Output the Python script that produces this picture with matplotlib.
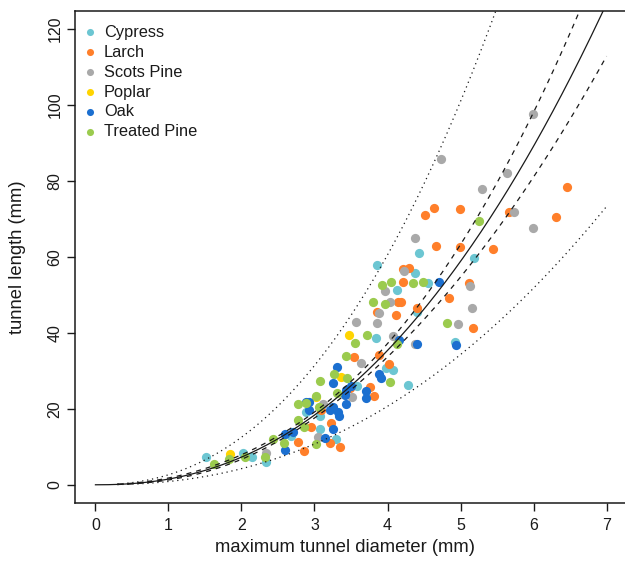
import numpy as np
import matplotlib
matplotlib.use("Agg")
import matplotlib.pyplot as plt

plt.rcParams['font.family'] = ['Liberation Sans', 'DejaVu Sans']

species = ["Cypress", "Larch", "Scots Pine", "Poplar", "Oak", "Treated Pine"]
colors = ["#6CC6D2", "#FF7F2A", "#A9A9A9", "#FFD400", "#1B6FD0", "#9BCB4E"]

cypress_x = [1.52, 2.02, 2.15, 2.34, 2.68, 3.08, 3.08, 3.30, 3.58, 3.85, 3.84, 4.13, 4.38, 4.43,
             4.55, 5.18, 4.40, 4.93, 4.28, 4.07, 3.98, 2.89]
cypress_y = [7.3, 8.5, 7.3, 6.1, 12.9, 18.0, 14.7, 12.1, 26.1, 57.9, 38.7, 51.3, 55.8, 61.0,
             53.1, 59.7, 45.5, 37.7, 26.4, 30.3, 30.7, 19.3]

larch_x = [2.77, 2.86, 2.95, 3.09, 3.23, 3.21, 3.35, 3.48, 3.76, 3.81, 3.54, 3.86, 3.89, 4.02,
           4.12, 4.14, 4.19, 4.21, 4.21, 4.30, 4.40, 4.52, 4.63, 4.67, 4.84, 4.99, 4.99, 5.11,
           5.17, 5.45, 5.66, 6.31, 6.46]
larch_y = [11.2, 8.8, 15.3, 19.7, 16.4, 11.0, 9.9, 25.4, 25.7, 23.5, 33.6, 45.6, 34.2, 31.8,
           44.7, 48.1, 48.1, 53.5, 56.8, 57.2, 46.5, 71.0, 73.0, 62.9, 49.3, 72.6, 62.6, 53.1,
           41.3, 62.0, 71.8, 70.6, 78.5]

scots_x = [2.34, 3.05, 3.11, 3.51, 3.64, 3.57, 3.85, 3.88, 3.97, 4.04, 4.08, 4.23, 4.38, 4.38,
           4.73, 4.96, 5.13, 5.16, 5.30, 5.63, 5.73, 5.99, 5.99]
scots_y = [8.5, 12.6, 21.2, 23.2, 32.2, 43.0, 42.6, 45.2, 51.1, 48.1, 39.3, 56.4, 37.0, 65.0,
           85.7, 42.3, 52.4, 46.5, 77.8, 82.0, 71.8, 97.6, 67.7]

poplar_x = [1.84, 3.02, 3.36, 3.47]
poplar_y = [8.2, 23.2, 28.5, 39.5]

oak_x = [2.59, 2.60, 2.71, 2.89, 2.93, 2.93, 3.14, 3.21, 3.25, 3.32, 3.34, 3.25, 3.26, 3.31,
         3.43, 3.42, 3.43, 3.50, 3.71, 3.70, 3.88, 3.91, 4.16, 4.40, 4.70, 4.94]
oak_y = [13.4, 9.2, 13.8, 21.7, 21.7, 19.6, 12.3, 19.7, 20.6, 19.3, 18.2, 14.6, 26.8, 30.9,
         25.0, 23.7, 21.3, 25.9, 24.8, 22.8, 29.2, 28.1, 38.2, 37.2, 53.5, 36.7]

treated_x = [1.62, 1.83, 2.05, 2.32, 2.43, 2.58, 2.78, 2.78, 2.85, 2.89, 3.02, 3.02, 3.06, 3.07,
             3.27, 3.31, 3.44, 3.43, 3.55, 3.72, 3.80, 3.93, 3.96, 4.05, 4.13, 4.04, 4.35, 4.48,
             4.81, 5.25]
treated_y = [5.5, 6.8, 7.4, 7.3, 12.0, 11.1, 17.1, 21.3, 15.1, 21.5, 10.8, 23.4, 20.6, 27.4,
             29.2, 24.3, 28.0, 33.8, 37.4, 39.4, 48.1, 52.6, 47.6, 53.5, 37.0, 27.2, 53.1, 53.3,
             42.7, 69.6]

series_x = [cypress_x, larch_x, scots_x, poplar_x, oak_x, treated_x]
series_y = [cypress_y, larch_y, scots_y, poplar_y, oak_y, treated_y]

# fitted log-log model: log(y) = b0 + b1*log(x), with confidence / prediction intervals
b0, b1 = np.log(1.50), 2.28
ts = 0.535          # t-quantile * residual sd (log scale)
n_obs = 170
mean_lx = 1.19
sxx = 14.0

xticks = [0, 1, 2, 3, 4, 5, 6, 7]
yticks = [0, 20, 40, 60, 80, 100, 120]

fig = plt.figure(figsize=(6.25, 5.65), dpi=100)
ax = fig.add_axes([75 / 625, (565 - 503) / 565, 552 / 625, 492 / 565])

for xs, ys, c in zip(series_x, series_y, colors):
    ax.scatter(xs, ys, s=44, color=c, linewidths=0, zorder=2)

xg = np.linspace(0, 7, 400)
fit = np.zeros_like(xg)
fit[xg > 0] = np.exp(b0 + b1 * np.log(xg[xg > 0]))
ax.plot(xg, fit, color="#1a1a1a", lw=0.9, zorder=3)

xi = np.linspace(0.3, 7, 400)
lx = np.log(xi)
mu = b0 + b1 * lx
lev = 1.0 / n_obs + (lx - mean_lx) ** 2 / sxx
ci = ts * np.sqrt(lev)
pi = ts * np.sqrt(1 + lev)
for sgn in (1, -1):
    ax.plot(xi, np.exp(mu + sgn * ci), color="#1a1a1a", lw=0.9, ls=(0, (4, 4)), zorder=3)
    ax.plot(xi, np.exp(mu + sgn * pi), color="#1a1a1a", lw=0.9, ls=(0, (1, 3)), zorder=3)

ax.set_xlim(-0.28, 7.28)
ax.set_ylim(-4.8, 124.8)
ax.set_xticks(xticks)
ax.set_yticks(yticks)
ax.set_xticklabels([str(t) for t in xticks])
ax.set_yticklabels([str(t) for t in yticks], rotation=90, va="center")
ax.tick_params(axis="both", direction="out", length=6, width=1.0, colors="#1a1a1a",
               labelsize=11.5)
ax.tick_params(axis="x", pad=5)
ax.tick_params(axis="y", pad=3)
for sp in ax.spines.values():
    sp.set_linewidth(1.1)
    sp.set_color("#1a1a1a")

fig.text(345 / 625, 1 - 548 / 565, "maximum tunnel diameter (mm)", ha="center", va="center",
         fontsize=13.2, color="#1a1a1a")
fig.text(18 / 625, 1 - 257 / 565, "tunnel length (mm)", ha="center", va="center",
         rotation=90, fontsize=13.2, color="#1a1a1a")

# legend (no frame)
for i, (name, c) in enumerate(zip(species, colors)):
    yy = (503 - 32.3) / 492 - i * 19.9 / 492
    ax.scatter([(90 - 75) / 552], [yy], s=26, color=c, linewidths=0, transform=ax.transAxes,
               clip_on=False, zorder=4)
    ax.text((104 - 75) / 552, yy, name, transform=ax.transAxes, ha="left", va="center",
            fontsize=11.8, color="#1a1a1a")

fig.savefig("out.png", dpi=100)
